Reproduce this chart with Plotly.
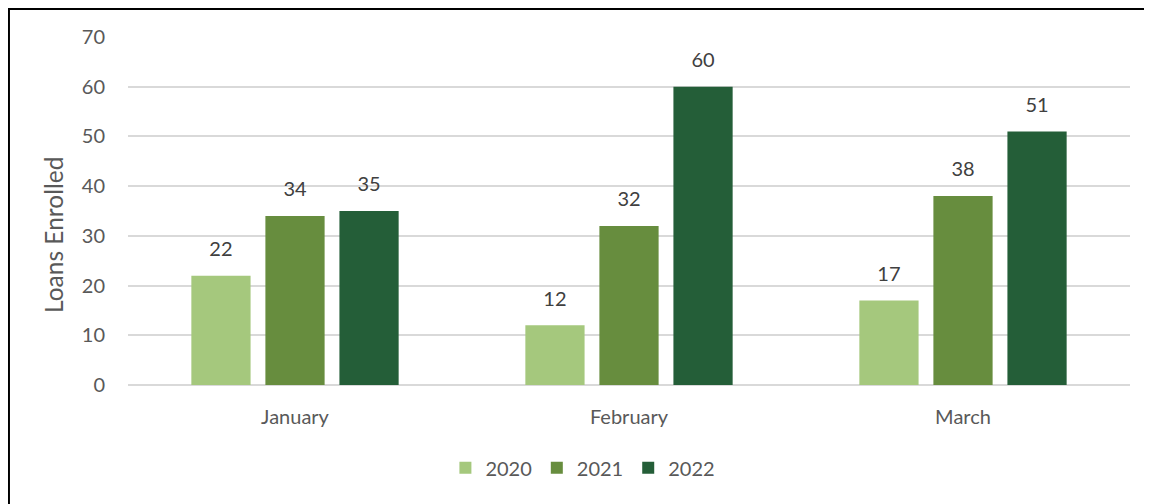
import plotly.graph_objects as go

months = ["January", "February", "March"]
years = ["2020", "2021", "2022"]
loans_2020 = [22, 12, 17]
loans_2021 = [34, 32, 38]
loans_2022 = [35, 60, 51]
y_ticks = [0, 10, 20, 30, 40, 50, 60, 70]
y_title = "Loans Enrolled"
colors = ["#A5C87D", "#678D3E", "#245E38"]

FONT = "Lato"
GAP = 0.335
fig = go.Figure()
for i, (name, vals, col) in enumerate(zip(years, [loans_2020, loans_2021, loans_2022], colors)):
    fig.add_trace(go.Bar(
        x=months, y=vals, name=name, marker=dict(color=col, line=dict(width=0)),
        offsetgroup=str(i), alignmentgroup="a", hoverinfo="skip",
    ))
for i, (name, vals) in enumerate(zip(years, [loans_2020, loans_2021, loans_2022])):
    fig.add_trace(go.Scatter(
        x=months, y=vals, mode="markers+text", text=[str(v) for v in vals],
        textposition="top center", textfont=dict(family=FONT, size=20, color="#404040"),
        marker=dict(size=22, opacity=0), showlegend=False, hoverinfo="skip",
        offsetgroup=str(i), alignmentgroup="a", cliponaxis=False,
    ))

fig.update_layout(
    width=1144, height=496,
    margin=dict(l=120, r=22, t=29, b=119),
    paper_bgcolor="white", plot_bgcolor="white",
    barmode="group", bargap=GAP, bargroupgap=0.2,
    scattermode="group", scattergap=GAP,
    font=dict(family=FONT, size=20, color="#595959"),
    xaxis=dict(showgrid=False, showline=False, ticks="", tickfont=dict(size=20, color="#595959"),
               ticklabelstandoff=18),
    yaxis=dict(range=[0, 70], tickvals=y_ticks, showgrid=True, gridcolor="#D9D9D9", gridwidth=1.5,
               zeroline=True, zerolinecolor="#D9D9D9", zerolinewidth=1.5,
               ticks="", tickfont=dict(size=20, color="#595959"), ticklabelstandoff=22),
    legend=dict(orientation="h", x=0.454, xanchor="center", y=-0.238, yanchor="middle",
                font=dict(size=20, color="#595959"), itemwidth=30, traceorder="normal"),
    showlegend=True,
    annotations=[dict(text=y_title, textangle=-90, xref="paper", yref="paper",
                      x=-0.0749, y=0.431, xanchor="center", yanchor="middle", showarrow=False,
                      font=dict(family=FONT, size=24.5, color="#595959"))],
    shapes=[
        dict(type="line", xref="paper", yref="paper", x0=-0.1193, x1=1.05, y0=1.0819, y1=1.0819,
             line=dict(color="black", width=3)),
        dict(type="line", xref="paper", yref="paper", x0=-0.1193, x1=-0.1193, y0=1.09, y1=-0.4,
             line=dict(color="black", width=3)),
    ],
)
fig.write_html("out.html")
